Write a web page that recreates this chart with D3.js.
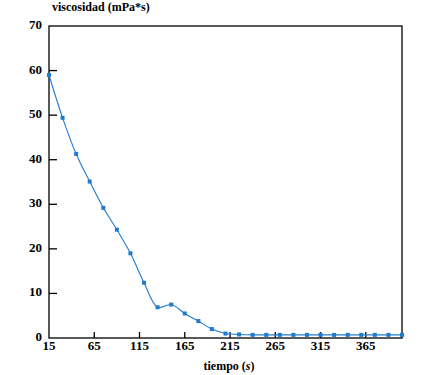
<!DOCTYPE html>
<html><head><meta charset="utf-8">
<script src="https://cdn.jsdelivr.net/npm/d3@7"></script>
<style>body{margin:0;background:#fff}svg{display:block}
text{font-family:"Liberation Serif","Times New Roman","DejaVu Serif",serif;font-weight:bold}</style>
</head><body>
<script>
const times = [15,30,45,60,75,90,105,120,135,150,165,180,195,210,225,240,255,270,285,300,315,330,345,360,375,390,405];
const viscosity = [59,49.4,41.3,35.1,29.2,24.3,19.0,12.4,6.9,7.5,5.5,3.8,2.0,1.0,0.8,0.7,0.7,0.7,0.7,0.7,0.7,0.7,0.7,0.7,0.7,0.7,0.7];
const xTicks = [15,65,115,165,215,265,315,365];
const yTicks = [0,10,20,30,40,50,60,70];

const W=446,H=375;
const m={l:49,r:44,t:26,b:37};
const svg=d3.select("body").append("svg").attr("width",W).attr("height",H);
const x=d3.scaleLinear().domain([15,405]).range([m.l,W-m.r]);
const y=d3.scaleLinear().domain([0,70]).range([H-m.b,m.t]);
const col="#1f7bd0";

svg.append("rect").attr("x",x(15)).attr("y",y(70)).attr("width",x(405)-x(15)).attr("height",y(0)-y(70))
  .attr("fill","none").attr("stroke","#000").attr("stroke-width",1.3);

const ya=svg.append("g");
yTicks.forEach(v=>{
  if(v>0&&v<70) ya.append("line").attr("x1",x(15)).attr("x2",x(15)+8).attr("y1",y(v)).attr("y2",y(v)).attr("stroke","#000").attr("stroke-width",1.3);
  ya.append("text").attr("x",42).attr("y",y(v)+3).attr("text-anchor","end").attr("font-size",13).text(v);
});
const xa=svg.append("g");
xTicks.forEach(v=>{
  if(v>15) xa.append("line").attr("x1",x(v)).attr("x2",x(v)).attr("y1",y(0)).attr("y2",y(0)-6).attr("stroke","#000").attr("stroke-width",1.3);
  xa.append("text").attr("x",x(v)).attr("y",y(0)+12).attr("text-anchor","middle").attr("font-size",13).text(v);
});

svg.append("text").attr("x",52).attr("y",11).attr("font-size",12).text("viscosidad (mPa*s)");
const xl=svg.append("text").attr("x",229).attr("y",370).attr("text-anchor","middle").attr("font-size",12);
xl.append("tspan").text("tiempo (");
xl.append("tspan").attr("font-style","italic").text("s");
xl.append("tspan").text(")");

const data=times.map((t,i)=>[t,viscosity[i]]);
svg.append("path").datum(data).attr("fill","none").attr("stroke",col).attr("stroke-width",1.1)
  .attr("d",d3.line().x(d=>x(d[0])).y(d=>y(d[1])).curve(d3.curveCatmullRom.alpha(0.5)));
svg.selectAll("rect.pt").data(data).enter().append("rect").attr("class","pt")
  .attr("x",d=>x(d[0])-2).attr("y",d=>y(d[1])-2).attr("width",4).attr("height",4).attr("fill",col);
</script>
</body></html>
